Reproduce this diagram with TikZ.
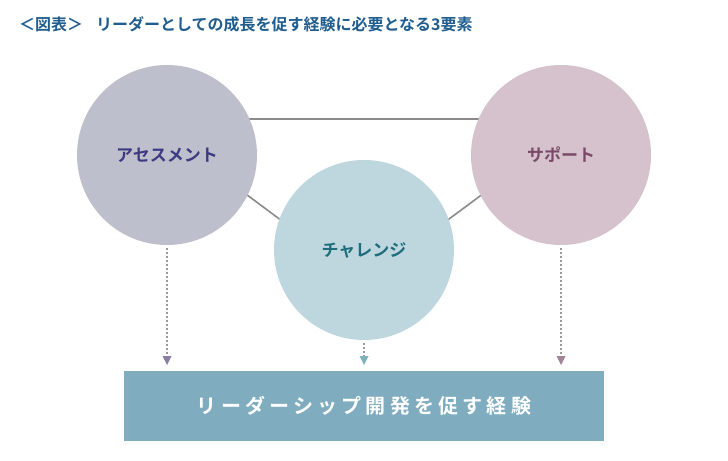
\documentclass[tikz,border=0pt]{standalone}
\usepackage{fontspec}
\setmainfont{Noto Sans CJK JP}[BoldFont={Noto Sans CJK JP Bold}]
\definecolor{titleblue}{HTML}{1F5D8E}
\definecolor{circA}{HTML}{BEBFCD}
\definecolor{circB}{HTML}{D5C2CC}
\definecolor{circC}{HTML}{BED7DF}
\definecolor{txtA}{HTML}{3C3A80}
\definecolor{txtB}{HTML}{7A4A68}
\definecolor{txtC}{HTML}{1D6C7C}
\definecolor{boxc}{HTML}{7FADBF}
\definecolor{linec}{HTML}{8A8A8A}
\definecolor{dotc}{HTML}{9A9A9A}
\definecolor{headA}{HTML}{8A7FA3}
\definecolor{headB}{HTML}{A08397}
\definecolor{headC}{HTML}{7FB0BD}
\tikzset{
  elem/.style={circle,minimum size=180bp,inner sep=0pt,font=\fontsize{17bp}{20bp}\selectfont\bfseries},
  tri/.style={draw=linec,line width=1.6bp},
  dotline/.style={draw=dotc,line width=1.6bp,dash pattern=on 1.6bp off 2.4bp},
  titletext/.style={anchor=west,inner sep=0pt,text=titleblue,font=\fontsize{16bp}{19bp}\selectfont\bfseries},
}
\begin{document}
\begin{tikzpicture}[x=1bp,y=-1bp]
\useasboundingbox[fill=white] (0,0) rectangle (728,461);
% title
\node[titletext] (t1) at (19,24) {＜図表＞};
\node[titletext] (t2) at (96,24) {リーダーとしての成長を促す経験に必要となる3要素};
% triangle behind circles
\coordinate (tl) at (145,119);
\coordinate (tr) at (584,119);
\coordinate (tb) at (364,282);
\draw[tri] (tl) -- (tr) -- (tb) -- cycle;
% circles
\node[elem,fill=circA,text=txtA] (A) at (167,155) {アセスメント};
\node[elem,fill=circB,text=txtB] (B) at (561,155) {サポート};
\node[elem,fill=circC,text=txtC] (C) at (364,250) {チャレンジ};
% bottom box
\node[fill=boxc,minimum width=480bp,minimum height=70bp,inner sep=0pt,text=white,
      font=\fontsize{20bp}{23bp}\selectfont\bfseries\addfontfeatures{LetterSpace=21}] (E) at (364,406) {\raisebox{-1bp}{リーダーシップ開発を促す経験}};
% arrows
\coordinate (ea) at (167,356);
\coordinate (eb) at (561,356);
\coordinate (ec) at (364,356);
\draw[dotline] ([yshift=-3bp]A.south) -- (ea);
\draw[dotline] ([yshift=-3bp]B.south) -- (eb);
\draw[dotline] ([yshift=-3bp]C.south) -- (ec);
\fill[headA] (ea) +(-4.5,0) -- +(4.5,0) -- +(0,9) -- cycle;
\fill[headB] (eb) +(-4.5,0) -- +(4.5,0) -- +(0,9) -- cycle;
\fill[headC] (ec) +(-4.5,0) -- +(4.5,0) -- +(0,9) -- cycle;
\end{tikzpicture}
\end{document}
